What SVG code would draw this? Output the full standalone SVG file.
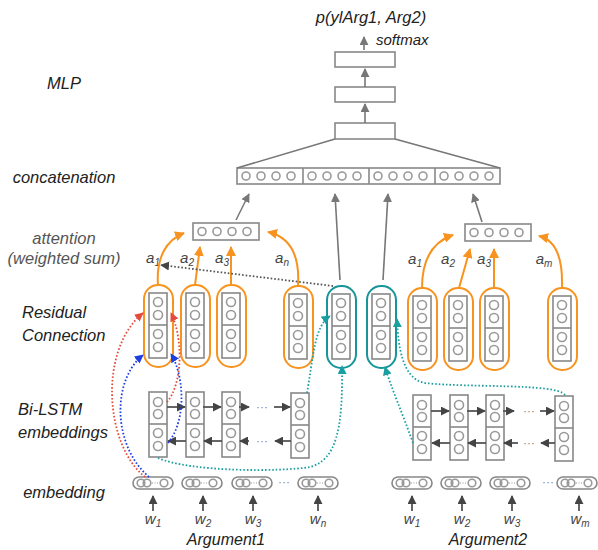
<svg xmlns="http://www.w3.org/2000/svg" width="598" height="550" viewBox="0 0 598 550">
<style>
text{font-family:"Liberation Sans",Arial,sans-serif;font-style:italic}
.lbl{font-size:16.5px;fill:#222}
.lbl2{font-size:16.5px;fill:#555}
.sub{font-size:15px;fill:#444}
.box{fill:#fff;stroke:#888;stroke-width:1.6}
.cir{fill:none;stroke:#999;stroke-width:1.6}
.org{fill:#fff;stroke:#f7931e;stroke-width:2}
.tea{fill:#fff;stroke:#16959a;stroke-width:2}
.gl{fill:none;stroke:#777;stroke-width:1.6}
.dk{fill:none;stroke:#555;stroke-width:1.8}
.ol{fill:none;stroke:#f7931e;stroke-width:2}
.dot{fill:none;stroke-width:1.8;stroke-dasharray:1.6 2}
.dgray{stroke:#555}
.dred{stroke:#e34b3c}
.dblue{stroke:#1d3fe0}
.dteal{stroke:#1a9fa0}
</style>
<defs>
<marker id="mg" viewBox="0 0 10 10" refX="9" refY="5" markerWidth="9" markerHeight="9" markerUnits="userSpaceOnUse" orient="auto"><path d="M0,0 L10,5 L0,10 z" fill="#777"/></marker>
<marker id="md" viewBox="0 0 10 10" refX="9" refY="5" markerWidth="9" markerHeight="9" markerUnits="userSpaceOnUse" orient="auto"><path d="M0,0 L10,5 L0,10 z" fill="#444"/></marker>
<marker id="mo" viewBox="0 0 10 10" refX="9" refY="5" markerWidth="10" markerHeight="10" markerUnits="userSpaceOnUse" orient="auto"><path d="M0,0 L10,5 L0,10 z" fill="#f7931e"/></marker>
<marker id="mr" viewBox="0 0 10 10" refX="9" refY="5" markerWidth="9" markerHeight="9" markerUnits="userSpaceOnUse" orient="auto"><path d="M0,0 L10,5 L0,10 z" fill="#e34b3c"/></marker>
<marker id="mb" viewBox="0 0 10 10" refX="9" refY="5" markerWidth="9" markerHeight="9" markerUnits="userSpaceOnUse" orient="auto"><path d="M0,0 L10,5 L0,10 z" fill="#1d3fe0"/></marker>
<marker id="mt" viewBox="0 0 10 10" refX="9" refY="5" markerWidth="9" markerHeight="9" markerUnits="userSpaceOnUse" orient="auto"><path d="M0,0 L10,5 L0,10 z" fill="#1a9fa0"/></marker>
<g id="inner">
<rect class="box" x="5" y="8" width="18" height="65"/>
<line x1="5" y1="40" x2="23" y2="40" stroke="#888" stroke-width="1.6"/>
<circle class="cir" cx="14" cy="17" r="4.5"/><circle class="cir" cx="14" cy="30" r="4.5"/>
<circle class="cir" cx="14" cy="49" r="4.5"/><circle class="cir" cx="14" cy="62" r="4.5"/>
</g>
<g id="col">
<rect class="box" x="0" y="0" width="18" height="65"/>
<line x1="0" y1="32" x2="18" y2="32" stroke="#888" stroke-width="1.6"/>
<circle class="cir" cx="9" cy="10" r="4.5"/><circle class="cir" cx="9" cy="22" r="4.5"/>
<circle class="cir" cx="9" cy="41" r="4.5"/><circle class="cir" cx="9" cy="54" r="4.5"/>
</g>
<g id="pill">
<rect x="0" y="0" width="40" height="12" rx="6" fill="#fff" stroke="#888" stroke-width="1.6"/>
<circle class="cir" cx="8" cy="6" r="3.8"/><circle class="cir" cx="14" cy="6" r="3.8"/>
<line x1="19" y1="6" x2="25" y2="6" stroke="#999" stroke-width="1" stroke-dasharray="1 1.5"/>
<circle class="cir" cx="31" cy="6" r="3.8"/>
</g>
<g id="four">
<circle class="cir" cx="9" cy="8.5" r="4"/><circle class="cir" cx="24" cy="8.5" r="4"/>
<circle class="cir" cx="39" cy="8.5" r="4"/><circle class="cir" cx="54" cy="8.5" r="4"/>
</g>
</defs>
<rect width="598" height="550" fill="#fff"/>

<g id="labels">
<text class="lbl" x="64" y="89" text-anchor="middle">MLP</text>
<text class="lbl" x="64" y="183" text-anchor="middle">concatenation</text>
<text class="lbl2" x="64" y="244" text-anchor="middle">attention</text>
<text class="lbl2" x="64" y="264" text-anchor="middle">(weighted sum)</text>
<text class="lbl" x="22" y="318">Residual</text>
<text class="lbl" x="22" y="341">Connection</text>
<text class="lbl" x="18" y="415">Bi-LSTM</text>
<text class="lbl" x="18" y="438">embeddings</text>
<text class="lbl" x="64" y="498" text-anchor="middle">embedding</text>
<text class="lbl" x="371" y="23" text-anchor="middle">p(ylArg1, Arg2)</text>
<text class="lbl" x="376" y="45" style="font-size:15px">softmax</text>
<text class="lbl" x="226" y="545" text-anchor="middle" style="font-size:16px">Argument1</text>
<text class="lbl" x="488" y="545" text-anchor="middle" style="font-size:16px">Argument2</text>
</g>

<g id="mlp">
<rect class="box" x="335" y="52" width="60" height="15"/>
<rect class="box" x="335" y="87" width="60" height="15"/>
<rect class="box" x="335" y="123" width="60" height="16"/>
</g>

<g id="concat">
<rect class="box" x="237" y="168" width="263" height="16"/>
<line x1="303" y1="168" x2="303" y2="184" stroke="#888" stroke-width="1.6"/>
<line x1="369" y1="168" x2="369" y2="184" stroke="#888" stroke-width="1.6"/>
<line x1="435" y1="168" x2="435" y2="184" stroke="#888" stroke-width="1.6"/>
<use href="#four" x="237" y="167.5"/><use href="#four" x="303" y="167.5"/>
<use href="#four" x="369" y="167.5"/><use href="#four" x="435" y="167.5"/>
</g>

<g id="att1"><rect class="box" x="193" y="223" width="66" height="17"/><use href="#four" x="193" y="223"/></g>
<g id="att2"><rect class="box" x="465" y="224" width="66" height="17"/><use href="#four" x="465" y="224"/></g>

<g id="res-l1"><rect class="org" x="144" y="285" width="29" height="82" rx="14"/><use href="#inner" x="144" y="285"/></g>
<g id="res-l2"><rect class="org" x="181" y="285" width="29" height="82" rx="14"/><use href="#inner" x="181" y="285"/></g>
<g id="res-l3"><rect class="org" x="217" y="285" width="29" height="82" rx="14"/><use href="#inner" x="217" y="285"/></g>
<g id="res-l4"><rect class="org" x="284" y="286" width="29" height="82" rx="14"/><use href="#inner" x="284" y="286"/></g>
<g id="res-t1"><rect class="tea" x="327" y="286" width="29" height="82" rx="14"/><use href="#inner" x="327" y="286"/></g>
<g id="res-t2"><rect class="tea" x="367" y="286" width="29" height="82" rx="14"/><use href="#inner" x="367" y="286"/></g>
<g id="res-r1"><rect class="org" x="408" y="288" width="29" height="82" rx="14"/><use href="#inner" x="408" y="288"/></g>
<g id="res-r2"><rect class="org" x="444" y="288" width="29" height="82" rx="14"/><use href="#inner" x="444" y="288"/></g>
<g id="res-r3"><rect class="org" x="480" y="288" width="29" height="82" rx="14"/><use href="#inner" x="480" y="288"/></g>
<g id="res-r4"><rect class="org" x="548" y="288" width="29" height="82" rx="14"/><use href="#inner" x="548" y="288"/></g>

<g id="lstm-l1"><use href="#col" x="149" y="392"/></g>
<g id="lstm-l2"><use href="#col" x="186" y="392"/></g>
<g id="lstm-l3"><use href="#col" x="222" y="392"/></g>
<g id="lstm-l4"><use href="#col" x="291" y="393"/></g>
<g id="lstm-r1"><use href="#col" x="413" y="395"/></g>
<g id="lstm-r2"><use href="#col" x="450" y="395"/></g>
<g id="lstm-r3"><use href="#col" x="486" y="395"/></g>
<g id="lstm-r4"><use href="#col" x="555" y="396"/></g>

<g id="emb-l1"><use href="#pill" x="133" y="477"/></g>
<g id="emb-l2"><use href="#pill" x="182" y="477"/></g>
<g id="emb-l3"><use href="#pill" x="232" y="477"/></g>
<g id="emb-l4"><use href="#pill" x="298" y="477"/></g>
<g id="emb-r1"><use href="#pill" x="392" y="477"/></g>
<g id="emb-r2"><use href="#pill" x="441" y="477"/></g>
<g id="emb-r3"><use href="#pill" x="490" y="477"/></g>
<g id="emb-r4"><use href="#pill" x="557" y="477"/></g>
<g id="ellipses" font-size="12" style="font-style:normal">
<text x="284" y="486" text-anchor="middle" fill="#888">···</text>
<text x="548" y="486" text-anchor="middle" fill="#888">···</text>
<text x="262" y="411" text-anchor="middle" fill="#888">···</text>
<text x="262" y="445" text-anchor="middle" fill="#888">···</text>
<text x="529" y="415" text-anchor="middle" fill="#888">···</text>
<text x="529" y="447" text-anchor="middle" fill="#888">···</text>
</g>

<g id="words">
<text class="sub" x="153" y="524" text-anchor="middle">w<tspan font-size="10" dy="3">1</tspan></text>
<text class="sub" x="203" y="524" text-anchor="middle">w<tspan font-size="10" dy="3">2</tspan></text>
<text class="sub" x="253" y="524" text-anchor="middle">w<tspan font-size="10" dy="3">3</tspan></text>
<text class="sub" x="318" y="524" text-anchor="middle">w<tspan font-size="10" dy="3">n</tspan></text>
<text class="sub" x="412" y="524" text-anchor="middle">w<tspan font-size="10" dy="3">1</tspan></text>
<text class="sub" x="462" y="524" text-anchor="middle">w<tspan font-size="10" dy="3">2</tspan></text>
<text class="sub" x="512" y="524" text-anchor="middle">w<tspan font-size="10" dy="3">3</tspan></text>
<text class="sub" x="580" y="524" text-anchor="middle">w<tspan font-size="10" dy="3">m</tspan></text>
</g>

<g id="weights">
<text class="sub" x="153" y="263" text-anchor="middle">a<tspan font-size="10" dy="3">1</tspan></text>
<text class="sub" x="187" y="263" text-anchor="middle">a<tspan font-size="10" dy="3">2</tspan></text>
<text class="sub" x="222" y="263" text-anchor="middle">a<tspan font-size="10" dy="3">3</tspan></text>
<text class="sub" x="282" y="263" text-anchor="middle">a<tspan font-size="10" dy="3">n</tspan></text>
<text class="sub" x="415" y="264" text-anchor="middle">a<tspan font-size="10" dy="3">1</tspan></text>
<text class="sub" x="448" y="264" text-anchor="middle">a<tspan font-size="10" dy="3">2</tspan></text>
<text class="sub" x="484" y="264" text-anchor="middle">a<tspan font-size="10" dy="3">3</tspan></text>
<text class="sub" x="544" y="264" text-anchor="middle">a<tspan font-size="10" dy="3">m</tspan></text>
</g>

<g id="connectors">
<path class="gl" d="M364,50 L364,37" marker-end="url(#mg)"/>
<path class="gl" d="M365,87 L365,69" marker-end="url(#mg)"/>
<path class="gl" d="M365,123 L365,104" marker-end="url(#mg)"/>
<path class="gl" d="M335,139 L237,168 M395,139 L500,168"/>
<path class="gl" d="M236,220 L249,194" marker-end="url(#mg)"/>
<path class="gl" d="M482,222 L473,194" marker-end="url(#mg)"/>
<path class="gl" d="M340,280 L335,194" marker-end="url(#mg)"/>
<path class="gl" d="M383,280 L388,194" marker-end="url(#mg)"/>

<path class="ol" d="M158,285 C156,258 166,240 184,233" marker-end="url(#mo)"/>
<path class="ol" d="M195,285 L200,247" marker-end="url(#mo)"/>
<path class="ol" d="M231,285 L231,247" marker-end="url(#mo)"/>
<path class="ol" d="M298,286 C300,255 290,237 268,232" marker-end="url(#mo)"/>
<path class="ol" d="M422,288 C422,260 432,242 453,235" marker-end="url(#mo)"/>
<path class="ol" d="M459,288 L470,249" marker-end="url(#mo)"/>
<path class="ol" d="M494,288 L494,249" marker-end="url(#mo)"/>
<path class="ol" d="M562,288 C563,258 556,240 539,236" marker-end="url(#mo)"/>

<path class="dot dgray" d="M333,286 L161,265" marker-end="url(#md)"/>

<path class="dk" d="M167,407 L185,407" marker-end="url(#md)"/>
<path class="dk" d="M203,407 L221,407" marker-end="url(#md)"/>
<path class="dk" d="M239,407 L249,407" marker-end="url(#md)"/>
<path class="dk" d="M274,407 L290,407" marker-end="url(#md)"/>
<path class="dk" d="M431,411 L449,411" marker-end="url(#md)"/>
<path class="dk" d="M467,411 L485,411" marker-end="url(#md)"/>
<path class="dk" d="M503,411 L514,411" marker-end="url(#md)"/>
<path class="dk" d="M540,411 L554,411" marker-end="url(#md)"/>
<path class="dk" d="M186,441 L168,441" marker-end="url(#md)"/>
<path class="dk" d="M222,441 L204,441" marker-end="url(#md)"/>
<path class="dk" d="M249,441 L240,441" marker-end="url(#md)"/>
<path class="dk" d="M291,441 L275,441" marker-end="url(#md)"/>
<path class="dk" d="M450,443 L432,443" marker-end="url(#md)"/>
<path class="dk" d="M486,443 L468,443" marker-end="url(#md)"/>
<path class="dk" d="M518,443 L504,443" marker-end="url(#md)"/>
<path class="dk" d="M555,443 L541,443" marker-end="url(#md)"/>

<path class="dk" d="M153,511 L153,496" marker-end="url(#md)"/>
<path class="dk" d="M203,511 L203,496" marker-end="url(#md)"/>
<path class="dk" d="M253,511 L253,496" marker-end="url(#md)"/>
<path class="dk" d="M318,511 L318,496" marker-end="url(#md)"/>
<path class="dk" d="M412,511 L412,496" marker-end="url(#md)"/>
<path class="dk" d="M462,511 L462,496" marker-end="url(#md)"/>
<path class="dk" d="M512,511 L512,496" marker-end="url(#md)"/>
<path class="dk" d="M579,511 L579,496" marker-end="url(#md)"/>

<path class="dot dred" d="M145,477 C105,445 98,350 143,313" marker-end="url(#mr)"/>
<path class="dot dred" d="M167,402 C182,385 184,340 171,313" marker-end="url(#mr)"/>
<path class="dot dblue" d="M149,477 C112,445 112,380 143,355" marker-end="url(#mb)"/>
<path class="dot dblue" d="M168,443 C187,420 184,375 171,354" marker-end="url(#mb)"/>

<path class="dot dteal" d="M158,458 C190,472 280,472 310,467 C336,460 343,430 342,366" marker-end="url(#mt)"/>
<path class="dot dteal" d="M307,393 C313,360 314,326 330,316" marker-end="url(#mt)"/>
<path class="dot dteal" d="M413,443 C402,412 392,390 385,367" marker-end="url(#mt)"/>
<path class="dot dteal" d="M565,395 C556,383 470,388 425,383 C402,379 398,345 397,319" marker-end="url(#mt)"/>
</g>
</svg>
